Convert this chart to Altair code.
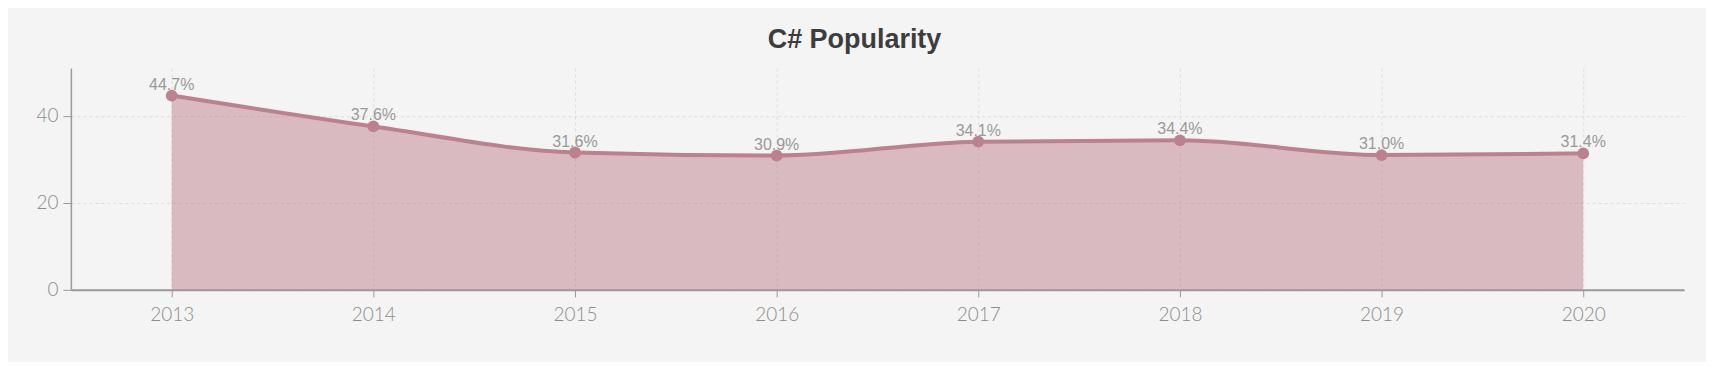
import altair as alt
import pandas as pd

years = [2013, 2014, 2015, 2016, 2017, 2018, 2019, 2020]
values = [44.7, 37.6, 31.6, 30.9, 34.1, 34.4, 31.0, 31.4]
labels = ["44.7%", "37.6%", "31.6%", "30.9%", "34.1%", "34.4%", "31.0%", "31.4%"]

df = pd.DataFrame({"year": years, "value": values, "label": labels})

LINE = "#bd808e"
TICKFONT = "Lato"
x = alt.X("year:Q", scale=alt.Scale(domain=[2012.5, 2020.5], nice=False, zero=False),
          axis=alt.Axis(values=years, format="d", title=None, labelFont=TICKFONT, labelFontSize=19,
                        labelFontWeight=300,
                        labelColor="#8c8c8c", domainColor="#999999", domainWidth=2,
                        tickColor="#999999", tickSize=7, labelPadding=9,
                        grid=True, gridDash=[3, 3], gridColor="#dddddd"))
y = alt.Y("value:Q", scale=alt.Scale(domain=[0, 51], nice=False),
          axis=alt.Axis(values=[0, 20, 40], title=None, labelFont=TICKFONT, labelFontSize=19,
                        labelFontWeight=300,
                        labelColor="#8c8c8c", domainColor="#999999", domainWidth=1.5,
                        tickColor="#999999", tickSize=8, labelPadding=5,
                        grid=True, gridDash=[3, 3], gridColor="#dddddd"))

base = alt.Chart(df)
area = base.mark_area(interpolate="monotone", color=LINE, opacity=0.5).encode(x=x, y=y)
line = base.mark_line(interpolate="monotone", color=LINE, strokeWidth=4).encode(x=x, y=y)
pts = base.mark_circle(color=LINE, size=140, opacity=1).encode(x=x, y=y)
txt = base.mark_text(dy=-6, baseline="alphabetic", font="Liberation Sans", fontSize=16,
                     color="#999999").encode(x=x, y=y, text="label:N")

chart = (area + line + pts + txt).properties(
    width=1616, height=222,
    autosize=alt.AutoSizeParams(type="none"),
    padding={"left": 63, "top": 60, "right": 22, "bottom": 72},
    background="#f4f4f4",
    title=alt.TitleParams("C# Popularity", font="Liberation Sans", fontSize=27, fontWeight="bold",
                          color="#3d3d3d", anchor="middle", dx=-23, offset=14),
).configure_view(stroke=None)

chart.save("out.html", embed_options={"renderer": "svg", "actions": False})
